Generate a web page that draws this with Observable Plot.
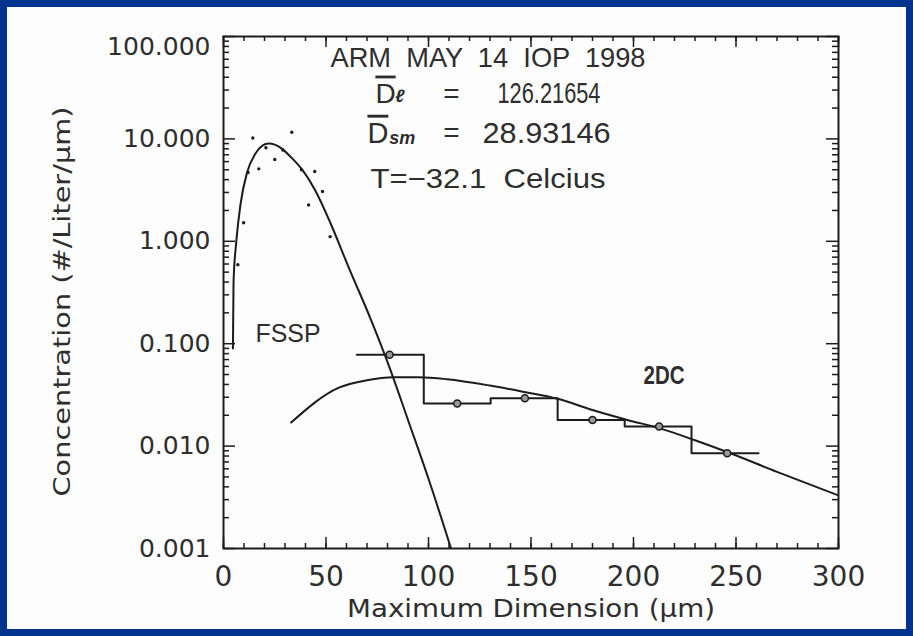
<!DOCTYPE html>
<html><head><meta charset="utf-8">
<script src="https://cdn.jsdelivr.net/npm/d3@7"></script>
<script src="https://cdn.jsdelivr.net/npm/@observablehq/plot@0.6"></script>
<style>
html,body{margin:0;padding:0;background:#00338d;width:913px;height:636px;overflow:hidden;}
#frame{position:absolute;left:7px;top:7px;width:899px;height:622px;background:#fdfdfd;overflow:hidden;}
</style></head><body><div id="frame"></div>
<script>
// FSSP measured points
const fsspDotX = [7.0, 9.8, 12.0, 14.3, 17.2, 20.7, 25.0, 29.0, 33.3, 38.0, 41.5, 44.5, 48.3, 52.0];
const fsspDotY = [0.59, 1.52, 4.7, 10.2, 5.1, 8.2, 6.3, 7.8, 11.6, 5.0, 2.26, 4.8, 3.06, 1.11];
// FSSP fitted curve
const fsspFitX = [4.6, 4.9, 6.2, 8.3, 11.5, 15.6, 19, 22, 25, 28.6, 33, 38.4, 44.9, 52.2, 61, 72, 81.5, 90, 100, 111];
const fsspFitY = [0.09, 0.4, 0.97, 2.3, 4.7, 7.2, 8.6, 9.0, 8.8, 8.0, 6.6, 5.0, 3.1, 1.5, 0.56, 0.17, 0.055, 0.018, 0.0048, 0.001];
// 2DC histogram: bin edges and concentrations
const dcEdges = [65, 97.7, 130.3, 163, 195.7, 228.3, 261];
const dcConc  = [0.078, 0.026, 0.0294, 0.018, 0.0155, 0.0085];
const dcCenters = [81, 114, 147, 180, 212.5, 245.7];
// 2DC fitted curve
const dcFitX = [33, 56, 70, 83, 95, 109, 130, 146, 163, 180, 197, 213, 230, 246, 270, 300];
const dcFitY = [0.017, 0.037, 0.044, 0.047, 0.047, 0.045, 0.039, 0.034, 0.029, 0.0225, 0.018, 0.0149, 0.0114, 0.0087, 0.0056, 0.0033];
// axis ticks
const xTickLabels = [0, 50, 100, 150, 200, 250, 300];
const xMinorTicks = d3.range(0, 301, 10);
const yTickLabels = [0.001, 0.01, 0.1, 1, 10, 100];
const yMinorTicks = [0.001, 0.01, 0.1, 1, 10].flatMap(d => d3.range(2, 10).map(k => k * d));
// texts
const xTitle = "Maximum Dimension (μm)";
const yTitle = "Concentration (#/Liter/μm)";
const headLines = ["ARM  MAY  14  IOP  1998", "T=−32.1  Celcius"];
const headX = [52.2, 71.7];
const headY = [61, 4.1];
const dSym = ["D", "D"];
const dSymX = [74.1, 70.2];
const dSymY = [27.7, 11.3];
const dSub = ["ℓ", "sm"];
const dSubX = [83.8, 80.8];
const dSubY = [26.0, 10.1];
const dEqX = [111.2, 111.2];
const dVal = ["126.21654", "28.93146"];
const dValX = [183.9, 188.8];
const seriesNames = ["FSSP", "2DC"];
const seriesX = [15.6, 204.9];
const seriesY = [0.123, 0.0479];

// layout (pixels)
const W = 899, H = 622, mL = 216, mR = 68, mT = 29, mB = 81;
const pw = W - mL - mR, ph = H - mT - mB;
const ink = "#1c1c1c", txt = "#2e2e2e";
const sans = "'Liberation Sans', Arial, sans-serif";
const wide = "'DejaVu Sans', sans-serif";
const fitWidths = new Map([
  ["ARM  MAY  14  IOP  1998", 315], ["T=−32.1  Celcius", 235],
  ["126.21654", 103], ["28.93146", 128], ["FSSP", 65], ["2DC", 41],
  [xTitle, 368], [yTitle, 390]
]);

const fsspDots = fsspDotX.map((x, i) => ({x, y: fsspDotY[i]}));
const fsspFit = fsspFitX.map((x, i) => ({x, y: fsspFitY[i]}));
const dcStep = dcEdges.map((x, i) => ({x, y: dcConc[Math.min(i, dcConc.length - 1)]}));
const dcPts = dcCenters.map((x, i) => ({x, y: dcConc[i]}));
const dcFit = dcFitX.map((x, i) => ({x, y: dcFitY[i]}));

const chart = Plot.plot({
  width: W, height: H, marginLeft: mL, marginRight: mR, marginTop: mT, marginBottom: mB,
  style: {background: "transparent", fontFamily: wide, color: txt},
  x: {domain: [0, 300], axis: null},
  y: {type: "log", domain: [0.001, 100], axis: null},
  marks: [
    Plot.ruleX(xMinorTicks, {x: d => d, insetTop: ph - 5, stroke: ink, strokeWidth: 1.5}),
    Plot.ruleX(xMinorTicks, {x: d => d, insetBottom: ph - 5, stroke: ink, strokeWidth: 1.5}),
    Plot.ruleX(xTickLabels, {x: d => d, insetTop: ph - 11, stroke: ink, strokeWidth: 1.5}),
    Plot.ruleX(xTickLabels, {x: d => d, insetBottom: ph - 11, stroke: ink, strokeWidth: 1.5}),
    Plot.ruleY(yMinorTicks, {y: d => d, insetRight: pw - 6, stroke: ink, strokeWidth: 1.5}),
    Plot.ruleY(yMinorTicks, {y: d => d, insetLeft: pw - 6, stroke: ink, strokeWidth: 1.5}),
    Plot.ruleY(yTickLabels, {y: d => d, insetRight: pw - 12, stroke: ink, strokeWidth: 1.5}),
    Plot.ruleY(yTickLabels, {y: d => d, insetLeft: pw - 12, stroke: ink, strokeWidth: 1.5}),
    Plot.axisX({ticks: xTickLabels, tickSize: 0, tickPadding: 18, tickFormat: d3.format("d"), label: null, fontSize: 28, fontFamily: wide, fill: txt}),
    Plot.axisY({ticks: yTickLabels, tickSize: 0, tickPadding: 13, tickFormat: d3.format(".3f"), label: null, fontSize: 25, fontFamily: wide, fill: txt}),
    Plot.text([xTitle], {frameAnchor: "bottom", dy: 60, textAnchor: "middle", lineAnchor: "middle", fontSize: 25, fontFamily: wide, fill: txt}),
    Plot.text([yTitle], {frameAnchor: "left", dx: -161, dy: 9, rotate: -90, textAnchor: "middle", lineAnchor: "middle", fontSize: 23, fontFamily: wide, fill: txt}),
    // data
    Plot.line(fsspFit, {x: "x", y: "y", curve: "monotone-x", stroke: ink, strokeWidth: 2, clip: true}),
    Plot.dot(fsspDots, {x: "x", y: "y", r: 1.7, fill: ink, stroke: "none"}),
    Plot.line(dcStep, {x: "x", y: "y", curve: "step-after", stroke: ink, strokeWidth: 2}),
    Plot.line(dcFit, {x: "x", y: "y", curve: "monotone-x", stroke: ink, strokeWidth: 2, clip: true}),
    Plot.dot(dcPts, {x: "x", y: "y", r: 3.5, fill: "#9a9a9a", stroke: ink, strokeWidth: 1.5}),
    // annotations
    Plot.text(headLines, {x: (d, i) => headX[i], y: (d, i) => headY[i], text: d => d, textAnchor: "start", fontSize: 28, fontFamily: sans, fill: txt}),
    Plot.text(dSym, {x: (d, i) => dSymX[i], y: (d, i) => dSymY[i], text: d => d, textAnchor: "start", fontSize: (d, i) => [28, 29][i], fontFamily: sans, fill: txt}),
    Plot.text(dSub, {x: (d, i) => dSubX[i], y: (d, i) => dSubY[i], text: d => d, textAnchor: "start", fontSize: 18, fontStyle: "italic", fontWeight: "bold", fontFamily: sans, fill: txt}),
    Plot.text(["=", "="], {x: (d, i) => dEqX[i], y: (d, i) => dSymY[i], text: d => d, fontSize: 28, fontFamily: sans, fill: txt}),
    Plot.text(dVal, {x: (d, i) => dValX[i], y: (d, i) => dSymY[i], text: d => d, textAnchor: "end", fontSize: (d, i) => [29, 30][i], fontFamily: sans, fill: txt}),
    Plot.text(seriesNames.slice(0, 1), {x: () => seriesX[0], y: () => seriesY[0], text: d => d, textAnchor: "start", fontSize: 25, fontFamily: sans, fill: txt}),
    Plot.text(seriesNames.slice(1), {x: () => seriesX[1], y: () => seriesY[1], text: d => d, textAnchor: "start", fontSize: 25, fontWeight: "bold", fontFamily: sans, fill: txt}),
    Plot.frame({stroke: ink, strokeWidth: 2})
  ]
});
document.getElementById("frame").appendChild(chart);
const texts = d3.select(chart).selectAll("text");
texts.filter(function () { return this.textContent === "D"; }).style("text-decoration", "overline");
texts.each(function () {
  const w = fitWidths.get(this.textContent);
  if (w) { this.setAttribute("textLength", w); this.setAttribute("lengthAdjust", "spacingAndGlyphs"); }
});
// the top y label sits a little below its tick in the reference
texts.filter(function () { return this.textContent === "100.000"; }).attr("y", null).attr("dy", "0.32em")
  .each(function () { this.setAttribute("transform", (this.getAttribute("transform") || "") + " translate(0,10)"); });
</script>
</body></html>
